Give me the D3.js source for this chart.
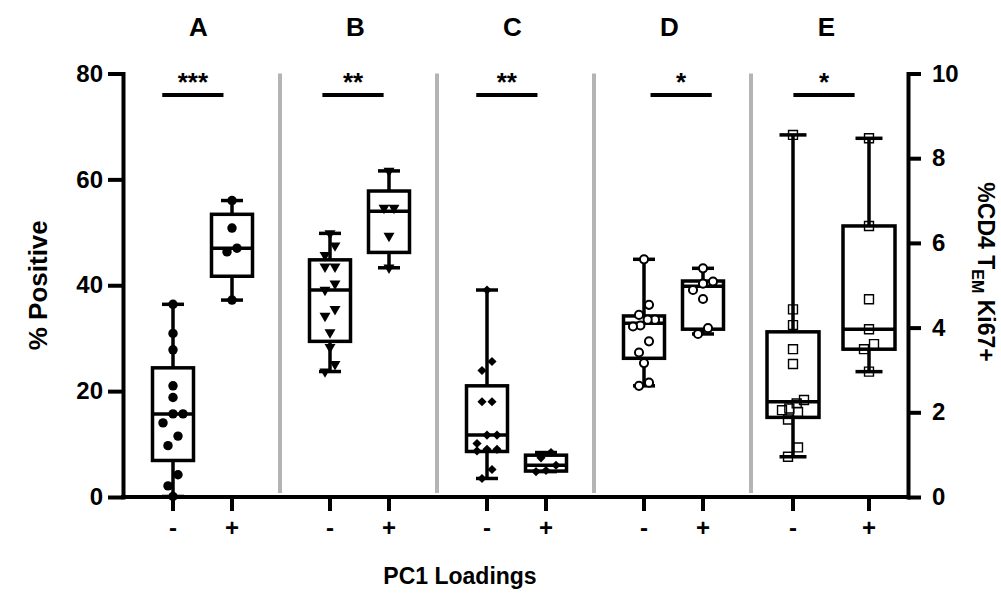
<!DOCTYPE html>
<html lang="en">
<head>
<meta charset="utf-8">
<title>PC1 Loadings</title>
<script src="https://cdn.jsdelivr.net/npm/d3@7"></script>
<style>
body { margin: 0; background: #fff; }
text { font-family: "Liberation Sans", Arial, sans-serif; font-weight: bold; fill: #000; }
</style>
</head>
<body>
<script>

var panels = ["A", "B", "C", "D", "E"];
var groups = ["-", "+"];
var stars = ["***", "**", "**", "*", "*"];
var leftTicks = [0, 20, 40, 60, 80];
var rightTicks = [0, 2, 4, 6, 8, 10];

// individual values (A-D on the left axis, E on the right axis)
var ptsANeg = [36.4, 30.9, 27.8, 21.0, 18.8, 15.7, 15.7, 14.0, 11.5, 9.7, 4.2, 2.1, 0.1];
var ptsAPos = [56.0, 50.8, 47.0, 46.3, 37.2];
var ptsBNeg = [49.8, 47.5, 45.7, 43.5, 43.5, 40.3, 39.1, 35.5, 34.2, 31.1, 28.3, 25.1, 23.7];
var ptsBPos = [61.6, 54.6, 54.6, 49.3, 43.3];
var ptsCNeg = [39.1, 25.6, 23.9, 18.0, 18.0, 11.7, 11.7, 10.1, 9.0, 9.0, 8.7, 5.2, 3.5];
var ptsCPos = [8.4, 7.4, 6.0, 5.0, 4.8];
var ptsDNeg = [44.9, 36.3, 34.4, 33.5, 33.5, 32.4, 32.2, 29.4, 27.3, 25.3, 21.6, 21.0];
var ptsDPos = [43.2, 40.7, 40.3, 39.1, 37.4, 31.9, 30.8];
var ptsENeg = [8.55, 4.43, 4.06, 3.49, 3.14, 2.29, 2.21, 2.09, 2.05, 2.01, 1.83, 1.17, 0.95];
var ptsEPos = [8.47, 6.40, 4.67, 3.96, 3.61, 3.49, 2.96];

// box stats in order A-, A+, B-, B+, C-, C+, D-, D+, E-, E+
var boxMin = [0.1, 37.2, 23.7, 43.3, 3.5, 4.8, 21.0, 30.8, 0.95, 2.96];
var boxQ1  = [6.9, 41.7, 29.4, 46.2, 8.6, 4.9, 26.2, 31.7, 1.88, 3.49];
var boxMed = [15.7, 47.0, 39.1, 54.0, 11.7, 6.0, 32.8, 39.8, 2.25, 3.96];
var boxQ3  = [24.4, 53.4, 44.8, 57.8, 21.0, 7.9, 34.2, 40.8, 3.90, 6.40];
var boxMax = [36.4, 56.0, 49.8, 61.6, 39.1, 8.4, 44.9, 43.2, 8.55, 8.47];

var allPts = [ptsANeg, ptsAPos, ptsBNeg, ptsBPos, ptsCNeg, ptsCPos, ptsDNeg, ptsDPos, ptsENeg, ptsEPos];

var w = 1001, h = 594;
var xL = 123, xR = 908, yTop = 73.5, yBot = 497;

var svg = d3.select("body")
    .append("svg")
    .attr("width", w)
    .attr("height", h);

var y = d3.scaleLinear().domain([0, 80]).range([yBot, yTop]);
var y2 = d3.scaleLinear().domain([0, 10]).range([yBot, yTop]);
var panelX = d3.scaleBand().domain(panels).range([xL, xR]);
var inner = d3.scalePoint().domain(groups).range([50, 109]);
var innerE = d3.scalePoint().domain(groups).range([42, 118]);

// marker per panel
var markers = [
    {type: d3.symbolCircle, size: 70, fill: "#000", stroke: "none", sw: 0, rot: 0},
    {type: d3.symbolTriangle, size: 52, fill: "#000", stroke: "none", sw: 0, rot: 180},
    {type: d3.symbolSquare, size: 42, fill: "#000", stroke: "none", sw: 0, rot: 45},
    {type: d3.symbolCircle, size: 52, fill: "#fff", stroke: "#000", sw: 2, rot: 0},
    {type: d3.symbolSquare, size: 80, fill: "none", stroke: "#000", sw: 1.4, rot: 0}
];

var boxes = [];
panels.forEach(function(p, pi) {
    groups.forEach(function(g, gi) {
        var i = pi * 2 + gi;
        var isE = p === "E";
        boxes.push({
            panel: p, pi: pi, group: g,
            cx: panelX(p) + (isE ? innerE(g) : inner(g)),
            bw: isE ? 52 : 41,
            cap: isE ? 27 : 22,
            ys: isE ? y2 : y,
            pts: allPts[i],
            min: boxMin[i], q1: boxQ1[i], med: boxMed[i], q3: boxQ3[i], max: boxMax[i]
        });
    });
});

// simple Prism-like scatter: values close in y share a row and are spread sideways
function swarm(vals, ys, diam) {
    var s = vals.slice().sort(function(a, b) { return b - a; });
    var out = [];
    var i = 0;
    while (i < s.length) {
        var row = [s[i]];
        var j = i + 1;
        while (j < s.length && ys(s[j]) - ys(s[i]) < diam * 1.15) { row.push(s[j]); j++; }
        var step = row.length > 1 ? Math.min(diam, 22 / (row.length - 1)) : 0;
        row.forEach(function(v, k) {
            out.push({v: v, dx: ((row.length - 1) / 2 - k) * step});
        });
        i = j;
    }
    return out;
}

// grey separators
svg.selectAll("line.sep")
   .data(panels.slice(1))
   .enter()
   .append("line")
   .attr("class", "sep")
   .attr("x1", function(d) { return panelX(d); })
   .attr("x2", function(d) { return panelX(d); })
   .attr("y1", yTop)
   .attr("y2", yBot - 4)
   .attr("stroke", "#b4b4b4")
   .attr("stroke-width", 4);

var bg = svg.selectAll("g.box")
   .data(boxes)
   .enter()
   .append("g")
   .attr("class", "box");

bg.append("line")
  .attr("x1", function(d) { return d.cx; })
  .attr("x2", function(d) { return d.cx; })
  .attr("y1", function(d) { return d.ys(d.max); })
  .attr("y2", function(d) { return d.ys(d.min); })
  .attr("stroke", "#000")
  .attr("stroke-width", 3.5);

bg.selectAll("line.cap")
  .data(function(d) { return [d.max, d.min].map(function(v) { return {v: v, b: d}; }); })
  .enter()
  .append("line")
  .attr("class", "cap")
  .attr("x1", function(d) { return d.b.cx - d.b.cap / 2; })
  .attr("x2", function(d) { return d.b.cx + d.b.cap / 2; })
  .attr("y1", function(d) { return d.b.ys(d.v); })
  .attr("y2", function(d) { return d.b.ys(d.v); })
  .attr("stroke", "#000")
  .attr("stroke-width", 3.5);

bg.append("rect")
  .attr("x", function(d) { return d.cx - d.bw / 2; })
  .attr("y", function(d) { return d.ys(d.q3); })
  .attr("width", function(d) { return d.bw; })
  .attr("height", function(d) { return d.ys(d.q1) - d.ys(d.q3); })
  .attr("fill", "#fff")
  .attr("stroke", "#000")
  .attr("stroke-width", 3.5);

bg.append("line")
  .attr("x1", function(d) { return d.cx - d.bw / 2; })
  .attr("x2", function(d) { return d.cx + d.bw / 2; })
  .attr("y1", function(d) { return d.ys(d.med); })
  .attr("y2", function(d) { return d.ys(d.med); })
  .attr("stroke", "#000")
  .attr("stroke-width", 3.5);

bg.selectAll("path.pt")
  .data(function(d) {
      var m = markers[d.pi];
      return swarm(d.pts, d.ys, 10).map(function(p) { return {p: p, b: d, m: m}; });
  })
  .enter()
  .append("path")
  .attr("class", "pt")
  .attr("d", function(d) { return d3.symbol().type(d.m.type).size(d.m.size)(); })
  .attr("transform", function(d) {
      return "translate(" + (d.b.cx + d.p.dx) + "," + d.b.ys(d.p.v) + ") rotate(" + d.m.rot + ")";
  })
  .attr("fill", function(d) { return d.m.fill; })
  .attr("stroke", function(d) { return d.m.stroke; })
  .attr("stroke-width", function(d) { return d.m.sw; });

// axes
var axL = svg.append("g")
   .attr("transform", "translate(" + xL + ",0)")
   .call(d3.axisLeft(y).tickValues(leftTicks).tickSize(15).tickSizeOuter(0).tickPadding(5));

var axR = svg.append("g")
   .attr("transform", "translate(" + xR + ",0)")
   .call(d3.axisRight(y2).tickValues(rightTicks).tickSize(13).tickSizeOuter(0).tickPadding(11));

[axL, axR].forEach(function(a) {
    a.select(".domain").attr("stroke-width", 4).attr("stroke-linecap", "square");
    a.selectAll(".tick line").attr("stroke-width", 4);
    a.selectAll(".tick text")
     .attr("font-size", "24px")
     .attr("font-family", "'Liberation Sans', Arial, sans-serif")
     .attr("font-weight", "bold");
});

svg.append("line")
   .attr("x1", xL)
   .attr("x2", xR)
   .attr("y1", yBot)
   .attr("y2", yBot)
   .attr("stroke", "#000")
   .attr("stroke-width", 4)
   .attr("stroke-linecap", "square");

svg.selectAll("line.xt")
   .data(boxes)
   .enter()
   .append("line")
   .attr("class", "xt")
   .attr("x1", function(d) { return d.cx; })
   .attr("x2", function(d) { return d.cx; })
   .attr("y1", yBot)
   .attr("y2", yBot + 14)
   .attr("stroke", "#000")
   .attr("stroke-width", 4);

svg.selectAll("text.xl")
   .data(boxes)
   .enter()
   .append("text")
   .attr("class", "xl")
   .attr("x", function(d) { return d.cx; })
   .attr("y", 536)
   .attr("text-anchor", "middle")
   .attr("font-size", "24px")
   .text(function(d) { return d.group; });

// panel letters
svg.selectAll("text.panel")
   .data(panels)
   .enter()
   .append("text")
   .attr("class", "panel")
   .attr("x", function(d) { return panelX(d) + panelX.bandwidth() * 0.48; })
   .attr("y", 36)
   .attr("text-anchor", "middle")
   .attr("font-size", "26px")
   .text(function(d) { return d; });

// significance bars
var sigFrom = [0.25, 0.27, 0.25, 0.36, 0.27];
svg.selectAll("line.sig")
   .data(panels)
   .enter()
   .append("line")
   .attr("class", "sig")
   .attr("x1", function(d, i) { return panelX(d) + panelX.bandwidth() * sigFrom[i]; })
   .attr("x2", function(d, i) { return panelX(d) + panelX.bandwidth() * (sigFrom[i] + 0.39); })
   .attr("y1", 95)
   .attr("y2", 95)
   .attr("stroke", "#000")
   .attr("stroke-width", 4);

svg.selectAll("text.sig")
   .data(panels)
   .enter()
   .append("text")
   .attr("class", "sig")
   .attr("x", function(d, i) { return panelX(d) + panelX.bandwidth() * (sigFrom[i] + 0.195); })
   .attr("y", 91)
   .attr("text-anchor", "middle")
   .attr("font-size", "26px")
   .text(function(d, i) { return stars[i]; });

// axis titles
svg.append("text")
   .attr("transform", "translate(47," + ((yTop + yBot) / 2) + ") rotate(-90)")
   .attr("text-anchor", "middle")
   .attr("font-size", "26px")
   .text("% Positive");

svg.append("text")
   .attr("x", 460)
   .attr("y", 584)
   .attr("text-anchor", "middle")
   .attr("font-size", "23px")
   .text("PC1 Loadings");

var rt = svg.append("text")
   .attr("transform", "translate(978,272) rotate(90)")
   .attr("text-anchor", "middle")
   .attr("font-size", "23px");
rt.append("tspan").text("%CD4 T");
rt.append("tspan").attr("font-size", "16px").attr("dy", 6).text("EM");
rt.append("tspan").attr("dy", -6).text(" Ki67+");

</script>
</body>
</html>
